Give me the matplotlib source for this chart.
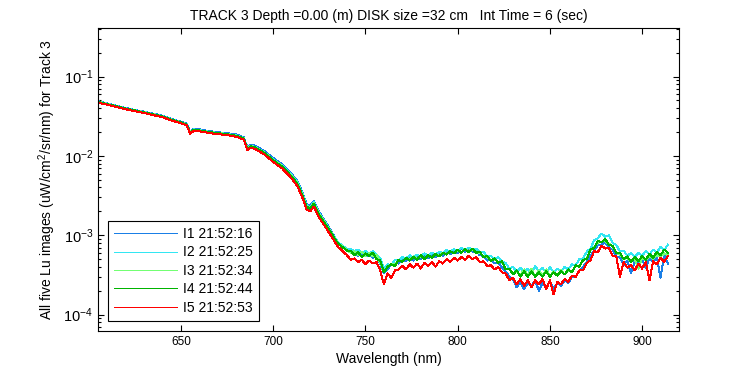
import matplotlib
matplotlib.use('Agg')
import matplotlib.pyplot as plt
import numpy as np
from matplotlib.ticker import LogLocator, NullFormatter, FuncFormatter

plt.rcParams['font.family'] = ['Liberation Sans', 'DejaVu Sans']
plt.rcParams['mathtext.fontset'] = 'custom'
plt.rcParams['mathtext.rm'] = 'Liberation Sans'
plt.rcParams['mathtext.it'] = 'Liberation Sans'
plt.rcParams['mathtext.default'] = 'regular'

# wavelength grid (nm): coarse on the smooth part, 2 nm on the noisy tail
wl_head = [605, 610, 615, 620, 625, 630, 635, 640, 645, 650, 653, 655, 657, 660, 665,
           670, 675, 680, 684, 686, 688, 690, 695, 700, 705, 710, 713, 716, 718, 720,
           722, 725, 730, 735, 740]
wl_tail = list(range(742, 915, 2))
wl = wl_head + wl_tail

# Lu values in units of 1e-4 uW/cm^2/sr/nm
i1 = [490, 460, 430, 402, 380, 361, 341, 321, 292, 270, 256, 200, 221, 216, 206,
      199, 194, 186, 172, 128, 139, 135, 116, 94, 78, 59, 49, 34, 25, 23.5,
      27, 19.5, 12.8, 8.2, 6.5,
      6.2, 5.8, 5.5, 6.0, 5.4, 5.8, 5.2, 5.5, 4.4, 3.3, 3.7, 4.3, 4.5, 4.4, 5.0,
      4.7, 5.2, 4.8, 5.4, 5.0, 5.5, 5.1, 5.7, 5.3, 5.9, 5.5, 6.2, 5.8, 6.4, 6.0,
      6.8, 6.1, 6.9, 6.2, 6.3, 5.6, 5.5, 4.8, 4.9, 4.4, 4.6, 3.9, 3.5, 3.0, 2.8,
      2.2, 2.6, 2.1, 2.5, 2.3, 2.7, 2.0, 2.5, 2.2, 2.6, 2.1, 2.5, 2.3, 2.7, 2.5,
      3.0, 3.0, 3.6, 4.0, 4.6, 5.5, 6.4, 7.5, 7.6, 8.1, 7.0, 6.6, 5.4, 5.2, 4.2,
      4.8, 3.3, 4.7, 4.3, 4.9, 3.9, 5.1, 4.6, 5.3, 2.9, 5.6, 4.4]
i2 = [485, 455, 426, 398, 377, 357, 337, 317, 288, 266, 252, 197, 216, 211, 202,
      195, 190, 181, 168, 125, 134, 130, 112, 90, 75, 57, 47, 33, 24, 22.5,
      26, 18.8, 12.4, 8.2, 6.7,
      6.7, 6.3, 6.6, 5.9, 6.4, 5.8, 6.3, 5.6, 5.2, 3.8, 4.3, 4.2, 4.9, 4.8, 5.3,
      5.1, 5.6, 5.2, 5.7, 5.4, 5.9, 5.5, 6.0, 5.7, 6.2, 5.9, 6.5, 6.2, 6.7, 6.3,
      6.9, 6.5, 7.0, 6.6, 6.8, 6.1, 6.2, 5.4, 5.5, 5.0, 5.3, 4.6, 4.5, 3.8, 4.0,
      3.4, 3.9, 3.4, 3.8, 3.3, 4.1, 3.5, 3.9, 3.3, 4.0, 3.4, 3.8, 3.5, 4.0, 3.7,
      4.3, 4.2, 5.0, 5.1, 6.2, 6.8, 8.6, 9.2, 10.5, 9.6, 10.0, 8.0, 7.6, 6.2, 6.4,
      5.5, 6.0, 5.3, 6.0, 5.5, 6.3, 5.7, 6.6, 6.0, 7.2, 6.5, 7.6]
i3 = [482, 452, 424, 396, 375, 355, 335, 315, 286, 265, 250, 196, 215, 210, 201,
      194, 189, 180, 167, 124, 133, 129, 111, 89, 74, 56, 46, 32, 23.5, 22,
      25.5, 18.5, 12.2, 8.0, 6.5,
      6.0, 6.3, 5.7, 6.2, 5.5, 6.0, 5.4, 5.7, 4.5, 3.5, 3.9, 4.4, 4.3, 4.8, 4.7,
      5.1, 4.9, 5.4, 5.0, 5.5, 5.1, 5.6, 5.3, 5.7, 5.5, 6.0, 5.8, 6.2, 6.0, 6.5,
      6.1, 6.6, 6.3, 6.7, 5.9, 6.1, 5.4, 5.4, 4.8, 5.0, 4.6, 4.6, 3.8, 3.7, 3.3,
      3.5, 3.1, 3.7, 3.1, 3.8, 3.0, 3.6, 3.1, 3.7, 3.0, 3.5, 3.1, 3.6, 3.2, 3.6,
      3.5, 4.1, 4.1, 4.8, 5.1, 6.4, 7.0, 8.1, 8.3, 8.4, 7.8, 7.2, 6.0, 5.7, 5.0,
      5.2, 4.7, 5.0, 3.8, 5.2, 4.8, 5.5, 5.0, 5.6, 5.4, 5.9, 5.6]
i4 = [480, 450, 422, 395, 374, 354, 334, 314, 285, 264, 249, 195, 214, 209, 200,
      193, 188, 179, 166, 123, 132, 128, 110, 88, 73, 55, 45, 31, 23, 21.5,
      25, 18, 12, 7.9, 6.4,
      6.4, 5.6, 6.1, 5.3, 5.9, 5.5, 6.0, 5.0, 4.8, 3.4, 4.0, 4.3, 4.1, 4.9, 4.6,
      5.2, 4.8, 5.3, 4.9, 5.6, 5.0, 5.6, 5.2, 5.8, 5.4, 6.0, 5.7, 6.3, 5.9, 6.6,
      6.0, 6.7, 6.1, 6.8, 6.0, 6.2, 5.3, 5.5, 4.7, 5.1, 4.5, 4.7, 3.7, 3.8, 3.2,
      3.6, 3.0, 3.5, 3.0, 3.5, 3.0, 3.4, 3.0, 3.5, 3.0, 3.4, 3.1, 3.5, 3.2, 3.7,
      3.4, 4.2, 4.0, 4.9, 5.0, 6.6, 6.9, 8.5, 8.1, 9.0, 7.5, 7.4, 5.9, 6.0, 5.0,
      5.4, 4.6, 5.3, 4.7, 5.5, 4.9, 5.8, 5.2, 6.2, 5.6, 6.6, 6.0]
i5 = [470, 442, 414, 388, 366, 347, 327, 307, 279, 258, 244, 190, 209, 204, 195,
      188, 183, 174, 161, 119, 127, 123, 105, 84, 69, 52, 42, 29, 21, 20,
      23, 16.5, 11, 7.2, 5.6,
      4.9, 5.1, 4.6, 4.9, 4.3, 4.8, 4.4, 4.6, 3.6, 2.4, 3.3, 2.9, 3.6, 3.7, 4.1,
      3.7, 4.3, 3.9, 4.4, 3.8, 4.5, 4.1, 4.6, 4.0, 4.7, 4.4, 5.0, 4.6, 5.2, 4.8,
      5.3, 4.9, 5.5, 5.0, 5.3, 4.6, 4.7, 4.1, 4.2, 3.7, 4.0, 3.4, 3.3, 2.7, 2.9,
      2.4, 2.8, 2.3, 2.7, 2.2, 2.7, 2.4, 2.8, 2.1, 2.7, 1.8, 2.6, 2.4, 2.8, 2.6,
      3.1, 3.0, 3.6, 3.6, 4.5, 4.8, 6.3, 6.1, 7.4, 6.8, 6.9, 5.5, 5.4, 3.0, 4.6,
      3.9, 4.2, 3.6, 4.4, 3.8, 4.6, 2.7, 4.7, 4.3, 5.2, 4.6, 5.5]

labels = ['I1 21:52:16', 'I2 21:52:25', 'I3 21:52:34', 'I4 21:52:44', 'I5 21:52:53']
colors = ['#1a7fe6', '#33e6f2', '#73ff73', '#00b400', '#ff0000']

fig = plt.figure(figsize=(7.5, 3.75), dpi=100)
ax = fig.add_axes([0.1307, 0.1173, 0.7746, 0.808])

for vals, lab, c in zip([i1, i2, i3, i4, i5], labels, colors):
    ax.plot(wl, np.array(vals) * 1e-4, color=c, lw=0.72, label=lab, antialiased=False)

ax.set_yscale('log')
ax.set_xlim(605, 920)
ax.set_ylim(6.2e-5, 0.41)
ax.set_xticks([650, 700, 750, 800, 850, 900])
ax.yaxis.set_major_locator(LogLocator(base=10, numticks=10))
ax.yaxis.set_major_formatter(FuncFormatter(lambda v, p: '$10^{%d}$' % round(np.log10(v))))
ax.yaxis.set_minor_locator(LogLocator(base=10, subs=np.arange(2, 10), numticks=10))
ax.yaxis.set_minor_formatter(NullFormatter())
ax.tick_params(which='both', direction='in', top=True, right=True, labelsize=8.5)
ax.tick_params(axis='y', which='major', labelsize=10.5)
ax.tick_params(which='major', length=4, width=0.8)
ax.tick_params(which='minor', length=2.5, width=0.8)
for s in ax.spines.values():
    s.set_linewidth(0.8)

ax.set_title('TRACK 3 Depth =0.00 (m) DISK size =32 cm   Int Time = 6 (sec)', fontsize=10, pad=6)
ax.set_xlabel('Wavelength (nm)', fontsize=10, labelpad=3)
ax.set_ylabel('All five Lu images (uW/cm$^2$/sr/nm) for Track 3', fontsize=10)

leg = ax.legend(loc='lower left', bbox_to_anchor=(0.0172, 0.033), borderaxespad=0,
                fontsize=10, fancybox=False, edgecolor='black', framealpha=1,
                handlelength=4.5, handletextpad=0.45, labelspacing=0.32, borderpad=0.45)
leg.get_frame().set_linewidth(0.8)

fig.savefig('out.png', dpi=100)
